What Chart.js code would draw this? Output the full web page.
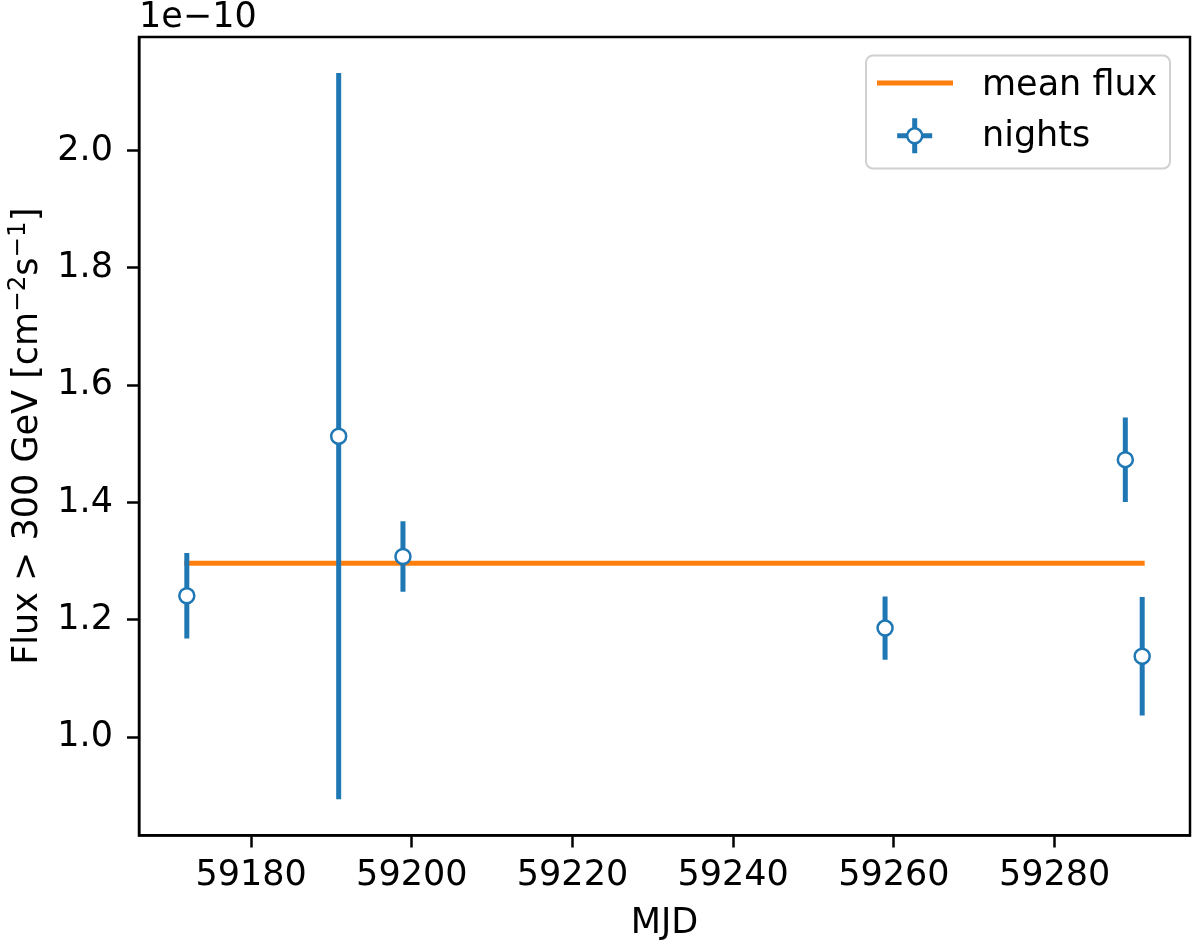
<!DOCTYPE html>
<html lang="en">
<head>
<meta charset="UTF-8">
<title>Flux &gt; 300 GeV per night</title>
<script src="https://cdn.jsdelivr.net/npm/chart.js"></script>
<style>
  html, body { margin: 0; padding: 0; background: #fff; }
  canvas { display: block; }
</style>
</head>
<body>
<canvas id="lightCurve" width="1200" height="945"></canvas>
<script>
// nightly fluxes, in units of 1e-10 cm^-2 s^-1
const mjd = [59172.0, 59190.9, 59198.9, 59258.9, 59288.8, 59290.9];
const flux = [1.241, 1.513, 1.308, 1.186, 1.473, 1.138];
const fluxErr = [0.073, 0.619, 0.060, 0.054, 0.072, 0.101];
const meanFlux = 1.2965;

const xTicks = [59180, 59200, 59220, 59240, 59260, 59280];
const yTicks = [1.0, 1.2, 1.4, 1.6, 1.8, 2.0];
const legendLabels = ['mean flux', 'nights'];
// y label pieces, superscripts drawn smaller and raised like mathtext
const yLabelParts = [
    { t: 'Flux > 300 GeV [cm', sup: false },
    { t: '\u22122', sup: true },
    { t: 's', sup: false },
    { t: '\u22121', sup: true },
    { t: ']', sup: false }
];

const blue = '#1f77b4';
const orange = '#ff7f0e';
const family = '"DejaVu Sans", sans-serif';
const fs = 35;

// markers first so they sit on top, then the error bars, then the mean line
const datasets = [];
datasets.push({
    label: 'nights',
    type: 'scatter',
    data: mjd.map((x, i) => ({ x: x, y: flux[i] })),
    pointRadius: 7.5,
    pointBackgroundColor: '#fff',
    pointBorderColor: blue,
    pointBorderWidth: 2.5,
    order: 0
});
mjd.forEach((x, i) => {
    datasets.push({
        type: 'line',
        data: [{ x: x, y: flux[i] - fluxErr[i] }, { x: x, y: flux[i] + fluxErr[i] }],
        borderColor: blue,
        borderWidth: 5,
        borderCapStyle: 'butt',
        pointRadius: 0,
        order: 1
    });
});
datasets.push({
    label: 'mean flux',
    type: 'line',
    data: [{ x: mjd[0], y: meanFlux }, { x: mjd[mjd.length - 1], y: meanFlux }],
    borderColor: orange,
    borderWidth: 5,
    borderCapStyle: 'square',
    pointRadius: 0,
    order: 2
});

// box round the axes, the 1e-10 offset, the y label and the legend
const framePlugin = {
    id: 'frameAndLegend',
    afterDatasetsDraw(chart) {
        const ctx = chart.ctx;
        const a = chart.chartArea;
        ctx.save();
        ctx.strokeStyle = '#000';
        ctx.lineWidth = 2.5;
        ctx.strokeRect(a.left, a.top, a.right - a.left, a.bottom - a.top);

        ctx.fillStyle = '#000';
        ctx.font = fs + 'px ' + family;
        ctx.textAlign = 'left';
        ctx.textBaseline = 'alphabetic';
        ctx.fillText('1e\u221210', a.left, a.top - 10);

        // y label, rotated, centred on the axes
        const supFont = (fs * 0.7) + 'px ' + family;
        const mainFont = fs + 'px ' + family;
        let total = 0;
        yLabelParts.forEach(p => {
            ctx.font = p.sup ? supFont : mainFont;
            p.w = ctx.measureText(p.t).width;
            total += p.w;
        });
        ctx.save();
        ctx.translate(37, (a.top + a.bottom) / 2);
        ctx.rotate(-Math.PI / 2);
        let px = -total / 2;
        yLabelParts.forEach(p => {
            ctx.font = p.sup ? supFont : mainFont;
            ctx.fillText(p.t, px, p.sup ? -12 : 0);
            px += p.w;
        });
        ctx.restore();

        // legend frame
        const x0 = a.right - 324, y0 = a.top + 18.5, w = 304, h = 113, r = 7;
        ctx.beginPath();
        ctx.moveTo(x0 + r, y0);
        ctx.arcTo(x0 + w, y0, x0 + w, y0 + h, r);
        ctx.arcTo(x0 + w, y0 + h, x0, y0 + h, r);
        ctx.arcTo(x0, y0 + h, x0, y0, r);
        ctx.arcTo(x0, y0, x0 + w, y0, r);
        ctx.closePath();
        ctx.fillStyle = 'rgba(255,255,255,0.8)';
        ctx.fill();
        ctx.strokeStyle = '#d0d0d0';
        ctx.lineWidth = 2;
        ctx.stroke();

        // mean flux handle
        ctx.strokeStyle = orange;
        ctx.lineWidth = 5;
        ctx.beginPath();
        ctx.moveTo(x0 + 11, y0 + 27.5);
        ctx.lineTo(x0 + 87, y0 + 27.5);
        ctx.stroke();

        // nights handle: error cross with open marker
        const cx = x0 + 48.7, cy = y0 + 80.3;
        ctx.strokeStyle = blue;
        ctx.beginPath();
        ctx.moveTo(cx - 17.5, cy); ctx.lineTo(cx + 17.5, cy);
        ctx.moveTo(cx, cy - 17.5); ctx.lineTo(cx, cy + 17.5);
        ctx.stroke();
        ctx.beginPath();
        ctx.arc(cx, cy, 7.5, 0, Math.PI * 2);
        ctx.fillStyle = '#fff';
        ctx.fill();
        ctx.lineWidth = 2.5;
        ctx.stroke();

        ctx.fillStyle = '#000';
        ctx.font = mainFont;
        ctx.fillText(legendLabels[0], x0 + 116, y0 + 39.3);
        ctx.fillText(legendLabels[1], x0 + 116, y0 + 90.3);
        ctx.restore();
    }
};

const axisTicks = {
    color: '#000',
    font: { family: family, size: fs },
    autoSkip: false,
    maxRotation: 0
};
const axisGrid = {
    drawOnChartArea: false,
    drawTicks: true,
    tickLength: 12,
    tickWidth: 2.5,
    tickColor: '#000'
};

const ctx = document.getElementById('lightCurve').getContext('2d');
const chart = new Chart(ctx, {
    type: 'scatter',
    data: { datasets: datasets },
    plugins: [framePlugin],
    options: {
        responsive: false,
        animation: false,
        devicePixelRatio: 1,
        layout: { padding: { top: 37, right: 2, left: 0, bottom: 0 } },
        plugins: {
            legend: { display: false },
            tooltip: { enabled: false }
        },
        scales: {
            x: {
                type: 'linear',
                min: 59166.05,
                max: 59296.85,
                afterBuildTicks: s => { s.ticks = xTicks.map(v => ({ value: v })); },
                afterFit: s => { s.height = 109.5; },
                ticks: Object.assign({}, axisTicks, { padding: 7, callback: v => String(v) }),
                grid: axisGrid,
                border: { display: true, color: '#000', width: 2.5 },
                title: {
                    display: true,
                    text: 'MJD',
                    color: '#000',
                    font: { family: family, size: fs },
                    padding: { top: 0, bottom: 0 }
                }
            },
            y: {
                type: 'linear',
                min: 0.8324,
                max: 2.1935,
                afterBuildTicks: s => { s.ticks = yTicks.map(v => ({ value: v })); },
                afterFit: s => { s.width = 139; },
                ticks: Object.assign({}, axisTicks, { padding: 14, callback: v => v.toFixed(1) }),
                grid: axisGrid,
                border: { display: true, color: '#000', width: 2.5 }
            }
        }
    }
});
</script>
</body>
</html>
